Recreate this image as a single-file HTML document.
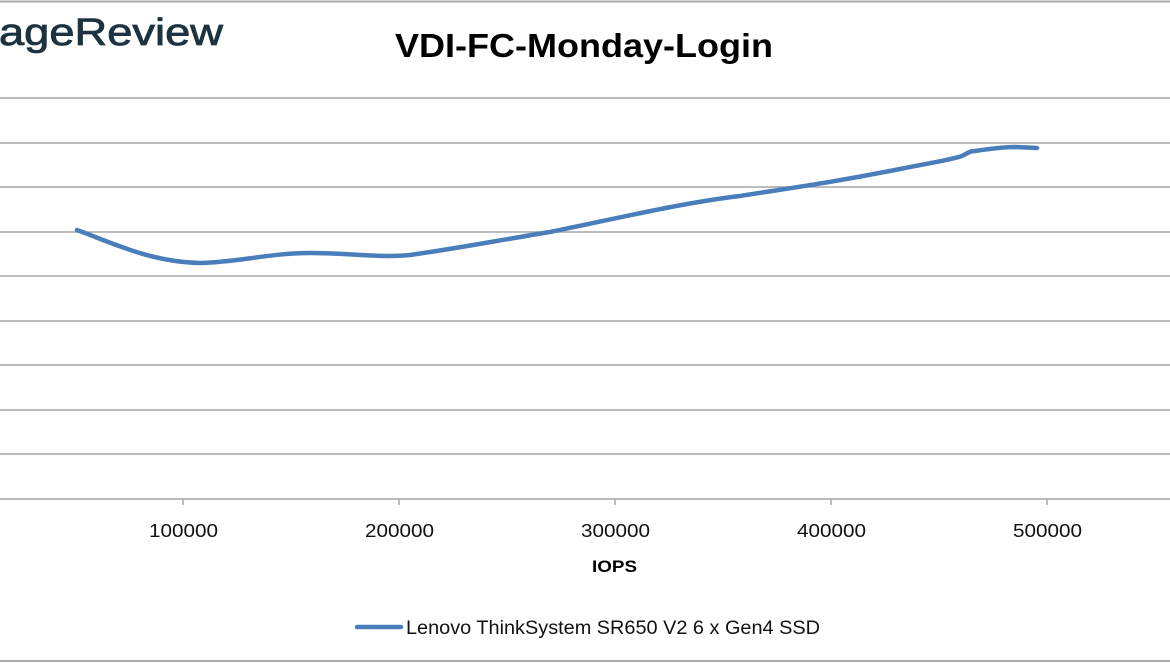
<!DOCTYPE html>
<html><head><style>
html,body{margin:0;padding:0;background:#fff;}
svg{display:block;}
</style></head><body>
<svg width="1170" height="663" viewBox="0 0 1170 663" xmlns="http://www.w3.org/2000/svg">
<rect width="1170" height="663" fill="#fff"/>
<line x1="0" y1="1.5" x2="1170" y2="1.5" stroke="#aaa" stroke-width="2"/>
<line x1="0" y1="661" x2="1170" y2="661" stroke="#aaa" stroke-width="2"/>
<text x="-1" y="45" font-family="Liberation Sans, sans-serif" font-size="38" fill="#1d3340" textLength="224" lengthAdjust="spacingAndGlyphs" stroke="#1d3340" stroke-width="0.8">ageReview</text>
<text x="395" y="57" font-family="Liberation Sans, sans-serif" font-weight="bold" font-size="33" fill="#000" textLength="378" lengthAdjust="spacingAndGlyphs">VDI-FC-Monday-Login</text>
<g stroke="#a6a6a6" stroke-width="1.5">
<line x1="0" y1="98" x2="1170" y2="98"/>
<line x1="0" y1="143" x2="1170" y2="143"/>
<line x1="0" y1="187" x2="1170" y2="187"/>
<line x1="0" y1="232" x2="1170" y2="232"/>
<line x1="0" y1="276" x2="1170" y2="276"/>
<line x1="0" y1="321" x2="1170" y2="321"/>
<line x1="0" y1="365" x2="1170" y2="365"/>
<line x1="0" y1="410" x2="1170" y2="410"/>
<line x1="0" y1="454" x2="1170" y2="454"/>
<line x1="0" y1="499" x2="1170" y2="499"/>
<line x1="183" y1="499" x2="183" y2="505"/>
<line x1="399" y1="499" x2="399" y2="505"/>
<line x1="615" y1="499" x2="615" y2="505"/>
<line x1="831" y1="499" x2="831" y2="505"/>
<line x1="1047" y1="499" x2="1047" y2="505"/>
</g>
<g font-family="Liberation Sans, sans-serif" font-size="18" fill="#111">
<text x="149" y="537" textLength="69" lengthAdjust="spacingAndGlyphs">100000</text>
<text x="365" y="537" textLength="69" lengthAdjust="spacingAndGlyphs">200000</text>
<text x="581" y="537" textLength="69" lengthAdjust="spacingAndGlyphs">300000</text>
<text x="797" y="537" textLength="69" lengthAdjust="spacingAndGlyphs">400000</text>
<text x="1013" y="537" textLength="69" lengthAdjust="spacingAndGlyphs">500000</text>
</g>
<text x="592" y="572" font-family="Liberation Sans, sans-serif" font-weight="bold" font-size="17" fill="#000" textLength="45" lengthAdjust="spacingAndGlyphs">IOPS</text>
<path d="M77,230 C110,242 150,262 200,263 C240,262 270,253 310,253 C350,253 380,258 410,255 C460,248 500,240 550,232 C610,220 680,203 740,196 C790,188 830,183 900,169 C930,163 950,160 962,156 C968,153 970,151 975,151 C995,148 1010,147 1015,147 L1037,148"
 fill="none" stroke="#4a7ebb" stroke-width="4.5" stroke-linecap="round" stroke-linejoin="round"/>
<line x1="357" y1="627" x2="401" y2="627" stroke="#4a7ebb" stroke-width="4.5" stroke-linecap="round"/>
<text x="406" y="634" font-family="Liberation Sans, sans-serif" font-size="19" fill="#111" textLength="414" lengthAdjust="spacingAndGlyphs">Lenovo ThinkSystem SR650 V2 6 x Gen4 SSD</text>
</svg>
</body></html>
